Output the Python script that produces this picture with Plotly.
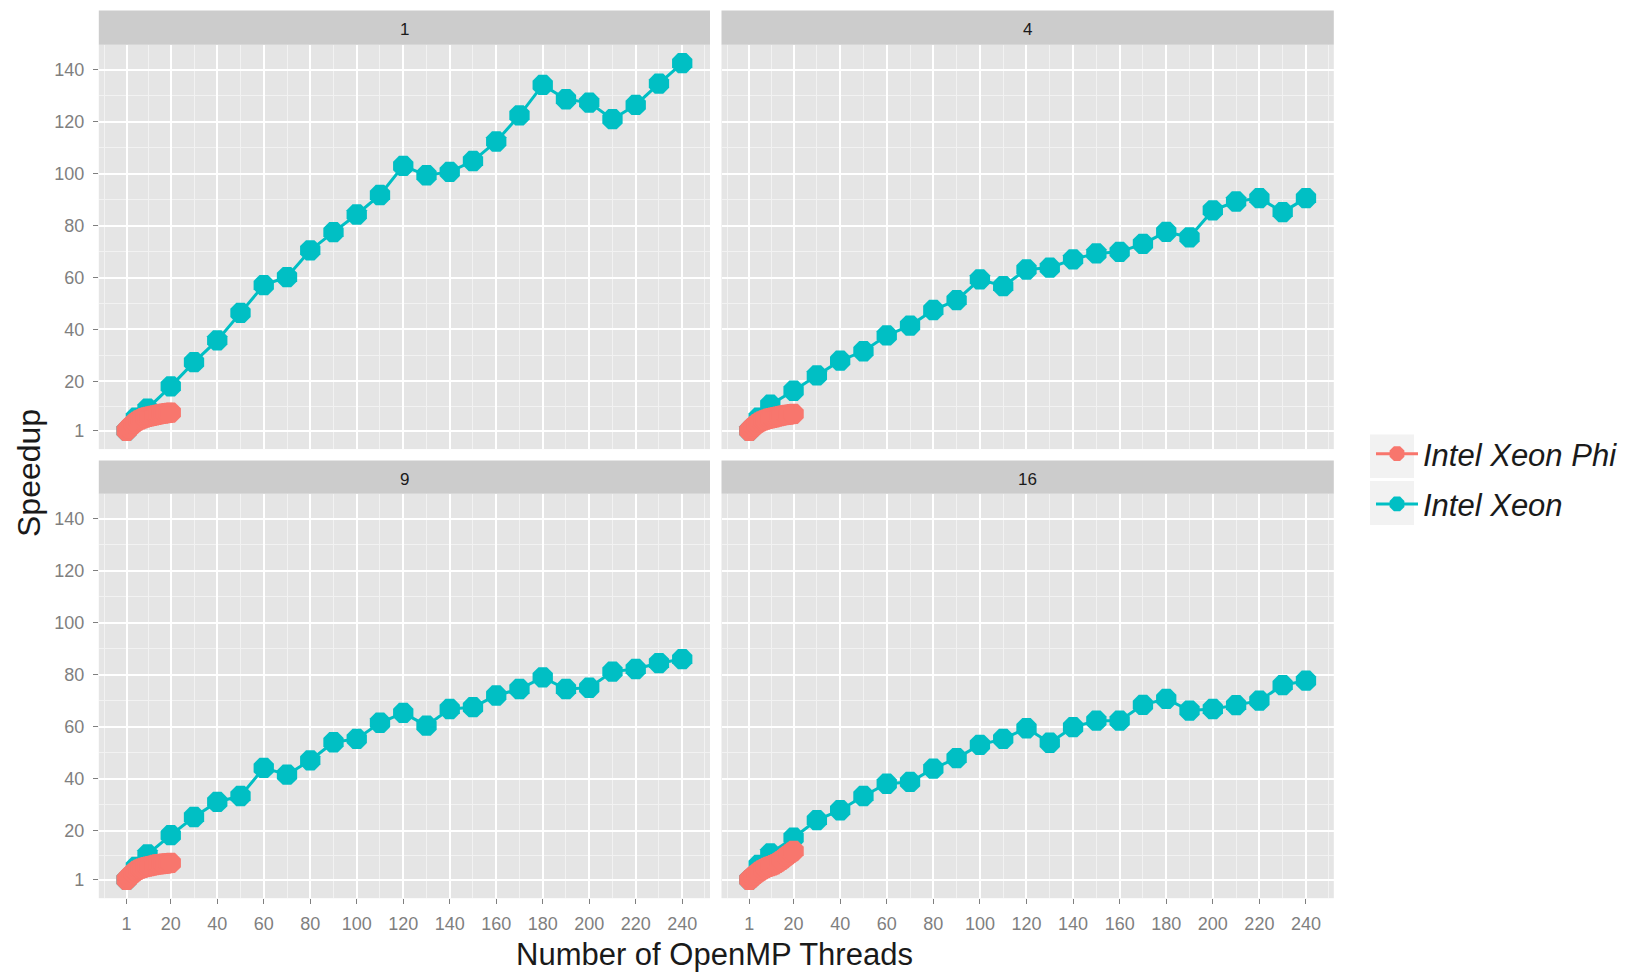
import plotly.graph_objects as go

# ---------------- data ----------------
panels = ["1", "4", "9", "16"]

phi_threads = list(range(1, 21))
phi_1 = [1, 2, 2.9, 3.7, 4.4, 5.0, 5.4, 5.8, 6.1, 6.3, 6.5, 6.7, 6.9, 7.1, 7.3, 7.5, 7.6, 7.8, 7.9, 8.0]
phi_4 = [1, 2, 2.8, 3.5, 4.1, 4.6, 5.0, 5.3, 5.6, 5.8, 6.0, 6.2, 6.4, 6.6, 6.8, 7.0, 7.1, 7.2, 7.4, 7.5]
phi_9 = [1, 2, 2.9, 3.7, 4.4, 4.9, 5.3, 5.6, 5.9, 6.1, 6.3, 6.5, 6.7, 6.9, 7.0, 7.1, 7.2, 7.3, 7.4, 7.5]
phi_16 = [1, 1.8, 2.6, 3.3, 4.0, 4.6, 5.1, 5.6, 6.0, 6.3, 6.6, 7.0, 7.5, 8.1, 8.7, 9.4, 10.1, 10.8, 11.5, 12.1]

xeon_threads = [1, 5, 10, 20, 30, 40, 50, 60, 70, 80, 90, 100, 110, 120, 130, 140,
                150, 160, 170, 180, 190, 200, 210, 220, 230, 240]
xeon_1 = [1, 6, 9.5, 18.1, 27.4, 35.8, 46.4, 57.1, 60.2, 70.5, 77.5, 84.3, 91.8, 103.0, 99.4, 100.7,
          104.9, 112.4, 122.5, 134.2, 128.7, 127.4, 121.0, 126.5, 134.7, 142.6]
xeon_4 = [1, 6, 11.0, 16.4, 22.3, 28.0, 31.6, 37.7, 41.5, 47.5, 51.3, 59.3, 56.7, 63.1, 63.8, 67.0,
          69.3, 69.9, 73.0, 77.6, 75.5, 85.9, 89.3, 90.6, 85.2, 90.6]
xeon_9 = [1, 6, 10.8, 18.2, 25.2, 31.0, 33.3, 44.1, 41.5, 47.0, 54.0, 55.3, 61.5, 65.3, 60.4, 66.8,
          67.5, 72.0, 74.5, 79.0, 74.5, 75.0, 81.2, 82.2, 84.5, 86.0]
xeon_16 = [1, 6.7, 11.2, 17.2, 24.0, 27.8, 33.3, 38.0, 38.7, 43.8, 47.9, 53.0, 55.3, 59.4, 53.8, 59.8,
           62.3, 62.3, 68.4, 70.7, 66.2, 66.8, 68.3, 70.0, 76.0, 77.7]

phi_series = [phi_1, phi_4, phi_9, phi_16]
xeon_series = [xeon_1, xeon_4, xeon_9, xeon_16]

x_ticks = [1, 20, 40, 60, 80, 100, 120, 140, 160, 180, 200, 220, 240]
y_ticks = [1, 20, 40, 60, 80, 100, 120, 140]
x_minor = [-8.5, 10.5, 30, 50, 70, 90, 110, 130, 150, 170, 190, 210, 230, 249.5]
y_minor = [10.5, 30, 50, 70, 90, 110, 130, 149.5]

# ---------------- style ----------------
OFF = 8  # page body margin
W, H = 1630 - OFF, 972 - OFF
RED = "#F8766D"
TEAL = "#00BFC4"
FONT = "Liberation Sans"

def px_x(v):
    return (v - OFF) / W

def px_y(v):
    return (H - (v - OFF)) / H

col_dom = [[px_x(98.8), px_x(710.0)], [px_x(721.5), px_x(1333.8)]]
row_dom = [[px_y(449.1), px_y(44.7)], [px_y(898.2), px_y(493.8)]]
strip_dom = [[px_y(44.7), px_y(10.4)], [px_y(493.8), px_y(460.5)]]

fig = go.Figure()

# teal first so red sits on top
for i in range(4):
    ax = "" if i == 0 else str(i + 1)
    fig.add_trace(go.Scatter(
        x=xeon_threads, y=xeon_series[i], mode="lines+markers",
        name="Intel Xeon", legendgroup="xeon", showlegend=(i == 0), legendrank=2,
        line=dict(color=TEAL, width=3),
        marker=dict(color=TEAL, size=22, symbol="octagon"),
        xaxis="x" + ax, yaxis="y" + ax))
for i in range(4):
    ax = "" if i == 0 else str(i + 1)
    fig.add_trace(go.Scatter(
        x=phi_threads, y=phi_series[i], mode="lines+markers",
        name="Intel Xeon Phi", legendgroup="phi", showlegend=(i == 0), legendrank=1,
        line=dict(color=RED, width=3),
        marker=dict(color=RED, size=22, symbol="octagon"),
        xaxis="x" + ax, yaxis="y" + ax))

layout = dict(
    width=W, height=H,
    margin=dict(l=0, r=0, t=0, b=0),
    paper_bgcolor="white",
    plot_bgcolor="#E5E5E5",
    font=dict(family=FONT, color="#7F7F7F"),
    legend=dict(
        x=px_x(1371), y=px_y(479), xanchor="left", yanchor="middle",
        bgcolor="rgba(0,0,0,0)", tracegroupgap=7,
        font=dict(family=FONT, size=31, color="#1A1A1A", style="italic"),
        itemwidth=42,
    ),
)

for i in range(4):
    r, c = divmod(i, 2)
    ax = "" if i == 0 else str(i + 1)
    bottom = (r == 1)
    left = (c == 0)
    layout["xaxis" + ax] = dict(
        domain=col_dom[c], anchor="y" + ax, range=[-10.95, 251.95],
        tickvals=x_ticks, ticktext=[str(t) for t in x_ticks],
        showticklabels=bottom, ticks="outside" if bottom else "",
        ticklen=5, tickwidth=1, tickcolor="#7F7F7F",
        ticklabelstandoff=4,
        tickfont=dict(size=18, color="#7F7F7F", family=FONT),
        showgrid=True, gridcolor="white", gridwidth=1.6,
        zeroline=False, showline=False,
        minor=dict(tickvals=x_minor, showgrid=True, gridcolor="#F2F2F2", gridwidth=0.8, ticks=""),
    )
    layout["yaxis" + ax] = dict(
        domain=row_dom[r], anchor="x" + ax, range=[-6.08, 149.7],
        tickvals=y_ticks, ticktext=[str(t) for t in y_ticks],
        showticklabels=left, ticks="outside" if left else "",
        ticklen=5, tickwidth=1, tickcolor="#7F7F7F",
        ticklabelstandoff=5,
        tickfont=dict(size=18, color="#7F7F7F", family=FONT),
        showgrid=True, gridcolor="white", gridwidth=1.6,
        zeroline=False, showline=False,
        minor=dict(tickvals=y_minor, showgrid=True, gridcolor="#F2F2F2", gridwidth=0.8, ticks=""),
    )

shapes = []
annotations = []
for i in range(4):
    r, c = divmod(i, 2)
    shapes.append(dict(type="rect", xref="paper", yref="paper",
                       x0=col_dom[c][0], x1=col_dom[c][1],
                       y0=strip_dom[r][0], y1=strip_dom[r][1],
                       fillcolor="#CCCCCC", line=dict(width=0), layer="below"))
    annotations.append(dict(text=panels[i], xref="paper", yref="paper",
                            x=(col_dom[c][0] + col_dom[c][1]) / 2,
                            y=(strip_dom[r][0] + strip_dom[r][1]) / 2,
                            yshift=-2,
                            showarrow=False, xanchor="center", yanchor="middle",
                            font=dict(size=17, color="#1A1A1A", family=FONT)))

# legend key backgrounds
for y0, y1 in [(434.5, 478), (481, 525)]:
    shapes.append(dict(type="rect", xref="paper", yref="paper",
                       x0=px_x(1370), x1=px_x(1414), y0=px_y(y1), y1=px_y(y0),
                       fillcolor="#F2F2F2", line=dict(width=0), layer="above"))

annotations.append(dict(text="Number of OpenMP Threads", xref="paper", yref="paper",
                        x=px_x(714), y=px_y(954), showarrow=False,
                        xanchor="center", yanchor="middle",
                        font=dict(size=31, color="#1A1A1A", family=FONT)))
annotations.append(dict(text="Speedup", xref="paper", yref="paper",
                        x=px_x(29), y=px_y(473), showarrow=False, textangle=-90,
                        xanchor="center", yanchor="middle",
                        font=dict(size=32, color="#1A1A1A", family=FONT)))

layout["shapes"] = shapes
layout["annotations"] = annotations
fig.update_layout(**layout)

fig.write_html("out.html")
